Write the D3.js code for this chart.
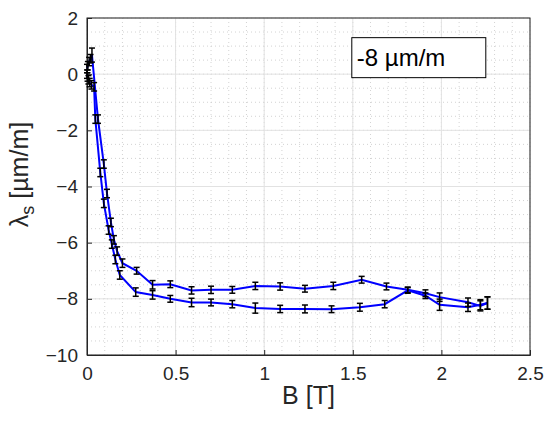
<!DOCTYPE html>
<html>
<head>
<meta charset="utf-8">
<script src="https://cdn.jsdelivr.net/npm/d3@7"></script>
<style>
  body { margin: 0; background: #fff; }
  svg { display: block; font-family: "Liberation Sans", Arial, sans-serif; }
</style>
</head>
<body>
<div id="chart"></div>
<script>
// first sweep (lower branch)
const upB = [0, 0.003, 0.008, 0.015, 0.025, 0.04, 0.047, 0.075, 0.095, 0.122, 0.14, 0.16, 0.185, 0.275, 0.37, 0.47, 0.59, 0.70, 0.82, 0.95, 1.09, 1.23, 1.38, 1.54, 1.68, 1.81, 1.91, 1.99, 2.15, 2.22, 2.26]
const upL = [0, -0.1, -0.2, -0.3, -0.38, -0.45, -1.6, -3.5, -4.6, -5.55, -6.05, -6.6, -7.15, -7.76, -7.86, -8.0, -8.13, -8.13, -8.19, -8.33, -8.36, -8.36, -8.37, -8.30, -8.19, -7.70, -7.89, -8.21, -8.30, -8.21, -8.15]
const upErr = [0.15, 0.15, 0.15, 0.15, 0.15, 0.15, 0.15, 0.15, 0.15, 0.15, 0.15, 0.15, 0.15, 0.15, 0.15, 0.12, 0.15, 0.12, 0.13, 0.18, 0.13, 0.14, 0.12, 0.14, 0.13, 0.1, 0.1, 0.2, 0.15, 0.18, 0.22]

// return sweep (upper branch)
const dnB = [2.26, 2.22, 2.15, 1.99, 1.91, 1.81, 1.69, 1.55, 1.39, 1.23, 1.09, 0.95, 0.82, 0.70, 0.59, 0.47, 0.37, 0.28, 0.20, 0.17, 0.152, 0.135, 0.113, 0.095, 0.062, 0.028, 0.02, 0.012, 0.005, 0]
const dnL = [-8.15, -8.25, -8.12, -7.94, -7.80, -7.68, -7.56, -7.32, -7.54, -7.64, -7.56, -7.54, -7.68, -7.68, -7.70, -7.48, -7.50, -7.0, -6.73, -6.3, -5.9, -5.28, -4.25, -3.2, -1.6, 0.68, 0.55, 0.45, 0.3, 0.2]
const dnErr = [0.22, 0.18, 0.15, 0.15, 0.12, 0.1, 0.12, 0.12, 0.13, 0.12, 0.13, 0.13, 0.12, 0.13, 0.13, 0.12, 0.15, 0.12, 0.15, 0.15, 0.15, 0.15, 0.15, 0.15, 0.15, 0.25, 0.15, 0.15, 0.15, 0.15]

const xTicks = [0, 0.5, 1, 1.5, 2, 2.5]
const yTicks = [-10, -8, -6, -4, -2, 0, 2]
const legendText = '-8 µm/m'

function draw() {
    let dimensions = {
        width: 546,
        height: 421,
        margin: { top: 18, bottom: 66, left: 87, right: 16 }
    }
    const w = dimensions.width - dimensions.margin.left - dimensions.margin.right
    const h = dimensions.height - dimensions.margin.top - dimensions.margin.bottom

    const svg = d3.select('#chart')
        .append('svg')
        .attr('width', dimensions.width)
        .attr('height', dimensions.height)

    const ctr = svg.append('g')
        .attr('transform', `translate(${dimensions.margin.left}, ${dimensions.margin.top})`)

    const x = d3.scaleLinear().domain([0, 2.5]).range([0, w])
    const y = d3.scaleLinear().domain([-10, 2]).range([h, 0])

    // minor grid, dotted
    const xMinor = d3.range(0, 2.5001, 0.1)
    const yMinor = d3.range(-10, 2.001, 0.5)
    ctr.append('g').selectAll('line').data(xMinor).join('line')
        .attr('x1', d => x(d)).attr('x2', d => x(d))
        .attr('y1', 0).attr('y2', h)
        .attr('stroke', '#c8c8c8').attr('stroke-width', 0.8)
        .attr('stroke-dasharray', '1,3')
    ctr.append('g').selectAll('line').data(yMinor).join('line')
        .attr('y1', d => y(d)).attr('y2', d => y(d))
        .attr('x1', 0).attr('x2', w)
        .attr('stroke', '#c8c8c8').attr('stroke-width', 0.8)
        .attr('stroke-dasharray', '1,3')

    // major grid
    ctr.append('g').selectAll('line').data(xTicks).join('line')
        .attr('x1', d => x(d)).attr('x2', d => x(d))
        .attr('y1', 0).attr('y2', h)
        .attr('stroke', '#e2e2e2').attr('stroke-width', 1)
    ctr.append('g').selectAll('line').data(yTicks).join('line')
        .attr('y1', d => y(d)).attr('y2', d => y(d))
        .attr('x1', 0).attr('x2', w)
        .attr('stroke', '#e2e2e2').attr('stroke-width', 1)

    // axes
    const xAxis = d3.axisBottom(x).tickValues(xTicks).tickSize(-5).tickPadding(12)
        .tickFormat(d3.format('~g'))
    const yAxis = d3.axisLeft(y).tickValues(yTicks).tickSize(-5).tickPadding(9)
    ctr.append('g').attr('transform', `translate(0, ${h})`).call(xAxis)
    ctr.append('g').call(yAxis)
    ctr.selectAll('.domain').attr('stroke', '#262626')
    ctr.selectAll('.tick line').attr('stroke', '#262626')
    ctr.selectAll('.tick text').attr('fill', '#262626').style('font-size', '19px')
        .style('font-family', '"Liberation Sans", Arial, sans-serif')

    // box
    ctr.append('rect')
        .attr('width', w).attr('height', h)
        .attr('fill', 'none').attr('stroke', '#262626').attr('stroke-width', 1)

    const series = [
        upB.map((b, i) => ({ b, l: upL[i], e: upErr[i] })),
        dnB.map((b, i) => ({ b, l: dnL[i], e: dnErr[i] }))
    ]

    const line = d3.line().x(d => x(d.b)).y(d => y(d.l))
    series.forEach(s => {
        ctr.append('path')
            .datum(s)
            .attr('d', line)
            .attr('fill', 'none')
            .attr('stroke', '#0000ff')
            .attr('stroke-width', 2)
    })

    // error bars
    series.forEach(s => {
        const g = ctr.append('g').attr('stroke', '#000').attr('stroke-width', 1.5)
        s.forEach(d => {
            const cx = x(d.b)
            g.append('line').attr('x1', cx).attr('x2', cx)
                .attr('y1', y(d.l - d.e)).attr('y2', y(d.l + d.e))
            g.append('line').attr('x1', cx - 3).attr('x2', cx + 3)
                .attr('y1', y(d.l - d.e)).attr('y2', y(d.l - d.e))
            g.append('line').attr('x1', cx - 3).attr('x2', cx + 3)
                .attr('y1', y(d.l + d.e)).attr('y2', y(d.l + d.e))
        })
    })

    // annotation box
    const box = ctr.append('g').attr('transform', `translate(${x(1.5) - 1}, ${y(1.3)})`)
    box.append('rect')
        .attr('width', 134).attr('height', 40)
        .attr('fill', '#fff').attr('stroke', '#000').attr('stroke-width', 1)
    box.append('text')
        .attr('x', 5).attr('y', 28)
        .style('font-size', '24px')
        .attr('fill', '#000')
        .text(legendText)

    // axis labels
    svg.append('text')
        .attr('x', dimensions.margin.left + w / 2)
        .attr('y', 404)
        .attr('text-anchor', 'middle')
        .style('font-size', '25px')
        .attr('fill', '#262626')
        .text('B [T]')

    const yl = svg.append('text')
        .attr('transform', `translate(28, ${dimensions.margin.top + h / 2 - 12}) rotate(-90)`)
        .attr('text-anchor', 'middle')
        .style('font-size', '25px')
        .attr('fill', '#262626')
    yl.append('tspan').text('λ')
    yl.append('tspan').attr('dy', 6).style('font-size', '18px').text('s')
    yl.append('tspan').attr('dy', -6).text(' [µm/m]')
}

draw()
</script>
</body>
</html>
